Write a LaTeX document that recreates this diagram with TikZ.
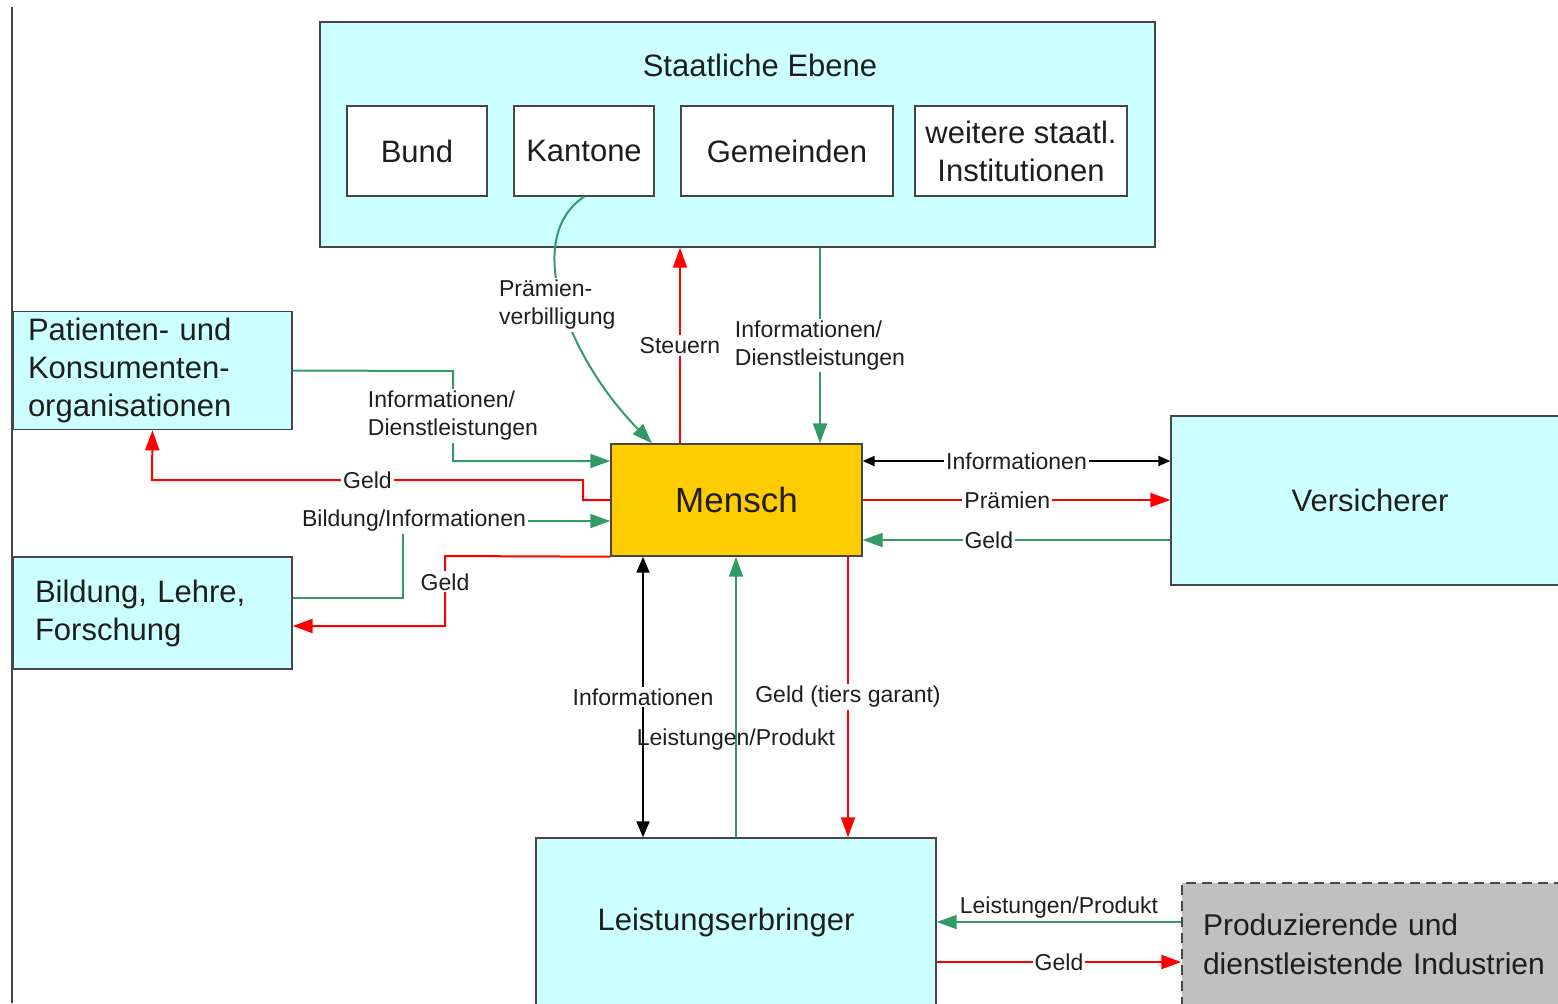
\documentclass[tikz,border=0pt]{standalone}
\usepackage{fontspec}
\setmainfont{Liberation Sans}
\usepackage{tikz}
\usetikzlibrary{arrows.meta}

\definecolor{boxcyan}{RGB}{204,255,255}
\definecolor{menschgelb}{RGB}{255,204,0}
\definecolor{flussgruen}{RGB}{51,153,102}
\definecolor{rahmen}{RGB}{70,70,70}
\definecolor{industriegrau}{RGB}{192,192,192}
\definecolor{schrift}{RGB}{30,30,30}

\tikzset{
  akteur/.style={draw=rahmen, line width=0.7pt, fill=boxcyan, text=schrift,
    font=\fontsize{15.5}{19}\selectfont},
  ebene/.style={draw=rahmen, line width=0.7pt, fill=white, text=schrift,
    minimum height=45pt, align=center, font=\fontsize{15.5}{19}\selectfont},
  geld/.style={draw=red, line width=1pt, -{Triangle[length=10pt,width=7pt]}},
  leistung/.style={draw=flussgruen, line width=1pt, -{Triangle[length=10pt,width=7pt]}},
  wissen/.style={draw=black, line width=1pt,
    {Triangle[length=8pt,width=6.5pt]}-{Triangle[length=8pt,width=6.5pt]}},
  lbl/.style={fill=white, inner sep=1pt, text=schrift,
    font=\fontsize{11.5}{14}\selectfont}
}

\begin{document}
\begin{tikzpicture}[x=0.5pt, y=-0.5pt]
\useasboundingbox (0,0) rectangle (1558,1003);
\clip (0,0) rectangle (1558,1003);

% Rand links
\draw[rahmen, line width=0.8pt] (12,7) -- (12,1003);

% staatliche Ebene
\node[akteur, minimum width=417.5pt, minimum height=112.5pt] (staat) at (737.5,134.5) {};
\node[text=schrift, font=\fontsize{15.5}{19}\selectfont] (staattitel) at (760,65) {Staatliche Ebene};
\node[ebene, minimum width=70pt] (bund) at (417,151) {Bund};
\node[ebene, minimum width=70pt] (kantone) at (584,151) {Kantone};
\node[ebene, minimum width=106pt] (gemeinden) at (787,151) {Gemeinden};
\node[ebene, minimum width=106pt] (weitere) at (1021,151) {weitere staatl.\\Institutionen};

% Akteure
\node[akteur, fill=menschgelb, minimum width=125.5pt, minimum height=56pt,
  font=\fontsize{17.5}{21}\selectfont] (mensch) at (736.5,500) {Mensch};
\node[akteur, minimum width=139.5pt, minimum height=56.5pt, inner xsep=7.5pt,
  text width=124.5pt, align=left] (patienten) at (152.5,370.5)
  {Patienten- und\\Konsumenten-\\organisationen};
\node[akteur, minimum width=139.5pt, minimum height=56pt, inner xsep=11pt,
  text width=117.5pt, align=left] (bildung) at (152.5,613)
  {Bildung, Lehre,\\Forschung};
\node[akteur, minimum width=199pt, minimum height=84.5pt] (versicherer) at (1370,500.5) {Versicherer};
\node[akteur, minimum width=200pt, minimum height=84pt] (leist) at (736,922) {Leistungserbringer\hspace*{10pt}};
\node[akteur, fill=industriegrau, dashed, dash pattern=on 5pt off 3pt,
  minimum width=209pt, minimum height=61pt, inner xsep=10.5pt,
  text width=188pt, align=left, font=\fontsize{15}{19.5}\selectfont] (prod) at (1391,944)
  {Produzierende und\\dienstleistende Industrien};

% Staat <-> Mensch
\draw[leistung] (kantone.south) .. controls (520,240) and (570,360) ..
  node[lbl, align=left, pos=0.5, xshift=-3pt] {Prämien-\\verbilligung} (mensch.north -| 652,0);
\draw[geld] (mensch.north -| 680,0) -- node[lbl] {Steuern} (staat.south -| 680,0);
\draw[leistung] (staat.south -| 820,0) --
  node[lbl, align=left] {Informationen/\\Dienstleistungen} (mensch.north -| 820,0);

% links
\draw[leistung] (patienten.east) -- (453,371) --
  node[lbl, align=left, pos=0.5] {Informationen/\\Dienstleistungen} (453,461) -- (mensch.west |- 0,461);
\draw[geld] (mensch.west) -- (583,500) -- (583,480) -- node[lbl] {Geld} (152,480) -- (patienten.south);
\draw[leistung] (bildung.east |- 0,598) -- (403,598) -- (403,521) --
  node[lbl, pos=0.053] {Bildung/Informationen} (mensch.west |- 0,521);
\draw[geld] (mensch.south west) -- (445,556) -- node[lbl, pos=0.37] {Geld} (445,626) -- (bildung.east |- 0,626);

% rechts
\draw[wissen, {Triangle[length=6pt,width=5pt]}-{Triangle[length=6pt,width=5pt]}]
  (mensch.east |- 0,461) -- node[lbl] {Informationen} (versicherer.west |- 0,461);
\draw[geld] (mensch.east) -- node[lbl, pos=0.47] {Prämien} (versicherer.west |- 0,500);
\draw[leistung] (versicherer.west |- 0,540) -- node[lbl, pos=0.59] {Geld} (mensch.east |- 0,540);

% unten
\draw[wissen] (mensch.south -| 643,0) -- node[lbl] {Informationen} (leist.north -| 643,0);
\draw[leistung] (leist.north) -- node[lbl, fill=none, pos=0.35] {Leistungen/Produkt} (leist.north |- mensch.south);
\draw[geld] (mensch.south -| 848,0) -- node[lbl] {Geld (tiers garant)} (leist.north -| 848,0);

% Industrie
\draw[leistung] (prod.west |- 0,922) --
  node[lbl, fill=none, above, inner sep=1.5pt] {Leistungen/Produkt} (leist.east |- 0,922);
\draw[geld] (leist.east |- 0,962) -- node[lbl] {Geld} (prod.west |- 0,962);
\end{tikzpicture}
\end{document}
